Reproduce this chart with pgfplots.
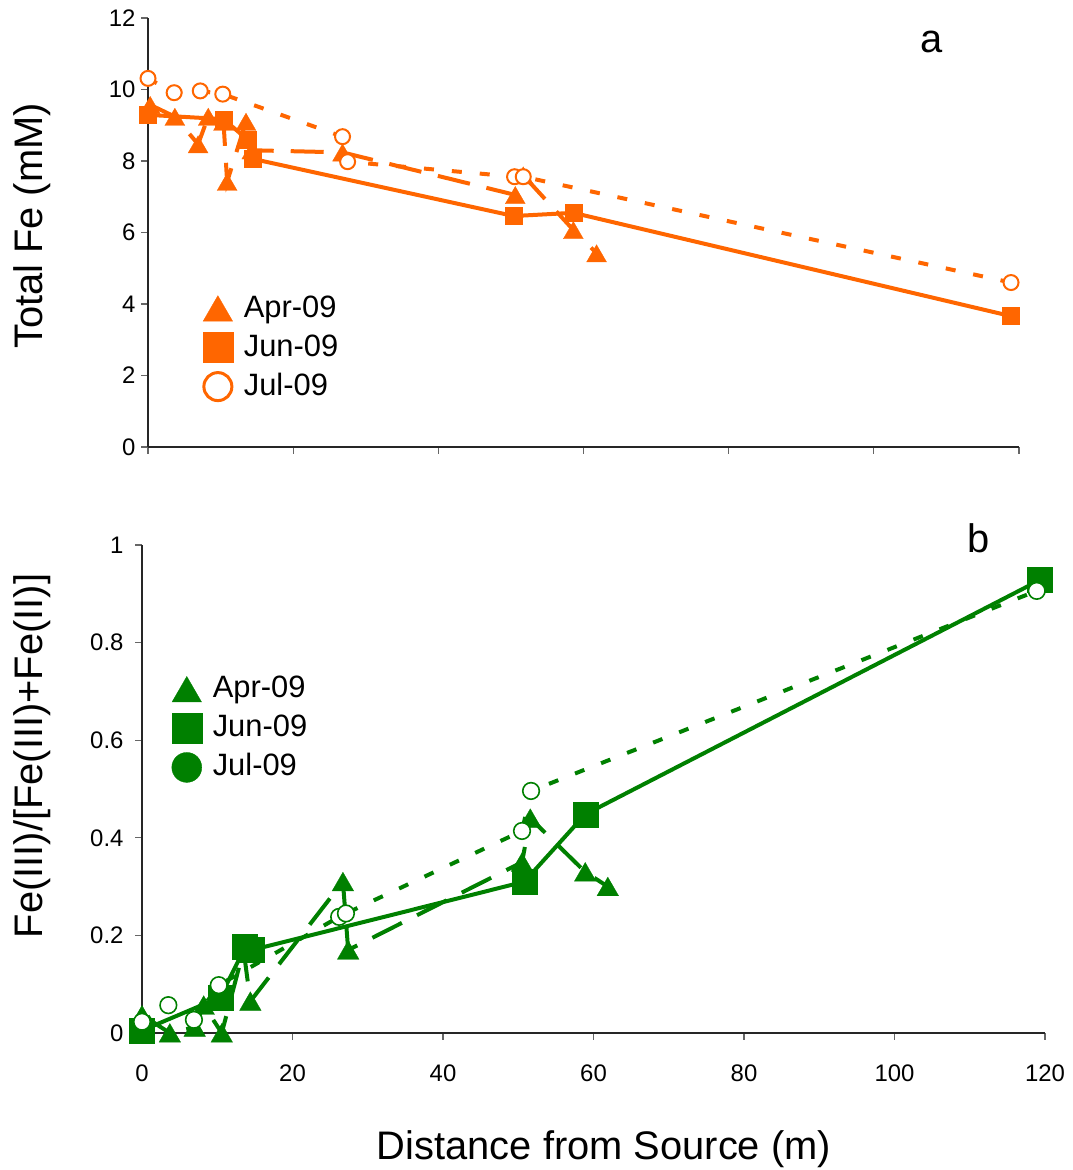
\documentclass[border=0pt]{standalone}
\usepackage{pgfplots}
\pgfplotsset{compat=1.18}
\usepackage{fontspec}
\setmainfont{Liberation Sans}
\definecolor{ora}{RGB}{255,102,0}
\definecolor{grn}{RGB}{0,128,0}
\begin{document}
\begin{tikzpicture}[x=1bp,y=1bp]
\useasboundingbox (0,0) rectangle (1073,1170);
\pgfplotsset{
  common/.style={
    scale only axis, clip=false,
    axis x line=bottom, axis y line=left,
    axis line style={-, line width=1.5bp, black!85},
    tick align=outside, major tick length=7bp,
    tick style={line width=1.2bp, black!60},
    /pgf/number format/assume math mode=true,
    tick label style={font=\fontsize{24}{28}\selectfont},
    label style={font=\fontsize{40}{48}\selectfont},
    xmin=0, xmax=120,
    xtick={0,20,40,60,80,100,120},
    legend image code/.code={\draw[##1] plot coordinates {(0bp,0bp)};},
    legend cell align=left,
    legend style={draw=none, fill=none, inner sep=0pt, outer sep=0pt, anchor=north west,
      font=\fontsize{31}{37}\selectfont, row sep=0pt,
      /tikz/every odd column/.append style={column sep=8bp},
      nodes={inner sep=3bp, text height=25bp, text depth=8bp}},
  },
  aprl/.style={line width=4bp, dash pattern=on 33bp off 17bp},
  junl/.style={line width=4bp, solid},
  jull/.style={line width=4bp, dash pattern=on 10bp off 18bp},
}
% ---------------- panel a ----------------
\begin{axis}[common, at={(148bp,723bp)}, anchor=south west, width=871bp, height=429bp,
  ymin=0, ymax=12, ytick={0,2,4,6,8,10,12}, xticklabels={},
  yticklabel style={xshift=-2bp},
  ylabel={Total Fe (mM)},
  ylabel style={at={(axis description cs:-0.1332,0.515)}, anchor=center},
  legend style={at={(axis description cs:0.063,0.368)}}]
\addplot[ora, aprl, mark=triangle*, mark size=11.5bp, mark options={solid, line width=0.3bp, yshift=-3bp}, forget plot]
  coordinates {(0.3,9.57)(3.7,9.24)(6.9,8.47)(8.3,9.24)(10.4,9.1)(10.9,7.42)(13.5,9.1)(14.3,8.3)(26.8,8.24)(50.6,7.05)(51.7,7.6)(58.6,6.07)(61.8,5.42)};
\addplot[ora, junl, mark=square*, mark size=8.5bp, mark options={solid, line width=0.3bp}, forget plot]
  coordinates {(0,9.29)(10.4,9.17)(13.7,8.6)(14.4,8.06)(50.4,6.46)(58.6,6.55)(118.9,3.66)};
\addplot[ora, jull, mark=*, mark size=7.5bp, mark options={solid, line width=2bp, fill=white}, forget plot]
  coordinates {(0,10.31)(3.6,9.91)(7.2,9.96)(10.3,9.87)(26.8,8.68)(27.5,7.98)(50.5,7.56)(51.7,7.56)(118.9,4.6)};
\addlegendimage{only marks, ora, mark=triangle*, mark size=17bp, mark options={line width=0.3bp, yshift=-4bp}}
\addlegendentry{Apr-09}
\addlegendimage{only marks, ora, mark=square*, mark size=15bp, mark options={line width=0.3bp}}
\addlegendentry{Jun-09}
\addlegendimage{only marks, ora, mark=*, mark size=14bp, mark options={line width=3bp, fill=white}}
\addlegendentry{Jul-09}
\node[font=\fontsize{40}{48}\selectfont, anchor=center] at (axis description cs:0.900,0.944) {a};
\end{axis}
% ---------------- panel b ----------------
\begin{axis}[common, at={(142bp,137bp)}, anchor=south west, width=903bp, height=488bp,
  ymin=0, ymax=1, ytick={0,0.2,0.4,0.6,0.8,1},
  yticklabels={0,0.2,0.4,0.6,0.8,1},
  xticklabel style={yshift=-21bp},
  yticklabel style={xshift=-8bp},
  xlabel={Distance from Source (m)},
  xlabel style={at={(axis description cs:0.5116,-0.2375)}, anchor=center},
  ylabel={Fe(III)/[Fe(III)+Fe(II)]},
  ylabel style={at={(axis description cs:-0.1218,0.5676)}, anchor=center},
  legend style={at={(axis description cs:0.033,0.744)}}]
\addplot[grn, aprl, mark=triangle*, mark size=12.5bp, mark options={solid, line width=0.3bp, yshift=-3bp}, forget plot]
  coordinates {(0,0.037)(3.7,0)(7,0.012)(8.2,0.057)(10.6,0)(13.5,0.17)(14.4,0.065)(26.7,0.31)(27.4,0.17)(50.5,0.35)(51.6,0.44)(58.9,0.33)(61.9,0.30)};
\addplot[grn, junl, mark=square*, mark size=12.5bp, mark options={solid, line width=0.3bp}, forget plot]
  coordinates {(0,0.005)(10.4,0.073)(13.7,0.176)(14.6,0.17)(50.8,0.31)(58.9,0.448)(119.3,0.928)};
\addplot[grn, jull, mark=*, mark size=8.3bp, mark options={solid, line width=1.6bp, fill=white}, forget plot]
  coordinates {(0,0.023)(3.5,0.057)(6.9,0.027)(10.2,0.098)(26.2,0.238)(27.1,0.245)(50.5,0.414)(51.7,0.496)(118.9,0.906)};
\addlegendimage{only marks, grn, mark=triangle*, mark size=17bp, mark options={line width=0.3bp, yshift=-4bp}}
\addlegendentry{Apr-09}
\addlegendimage{only marks, grn, mark=square*, mark size=15bp, mark options={line width=0.3bp}}
\addlegendentry{Jun-09}
\addlegendimage{only marks, grn, mark=*, mark size=15bp, mark options={line width=0.3bp}}
\addlegendentry{Jul-09}
\node[font=\fontsize{40}{48}\selectfont, anchor=center] at (axis description cs:0.926,1.014) {b};
\end{axis}
\end{tikzpicture}
\end{document}
